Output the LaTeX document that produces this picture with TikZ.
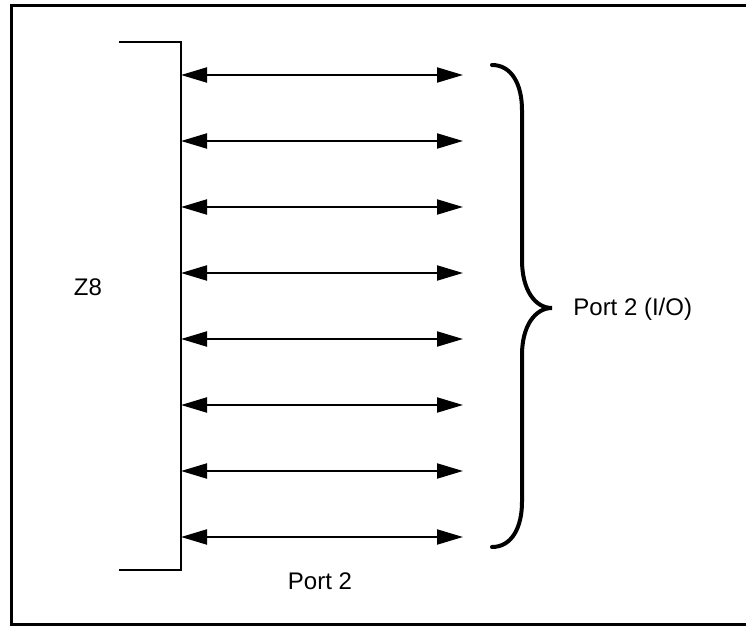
\documentclass[tikz,border=0pt]{standalone}
\usepackage{fontspec}
\setmainfont{Liberation Sans}
\usetikzlibrary{arrows.meta,positioning}

\begin{document}
\begin{tikzpicture}[x=0.5pt,y=-0.5pt,<->,>={Triangle[length=13pt,width=7.5pt]},
 every node/.style={inner sep=0pt,font=\fontsize{12}{14}\selectfont},
 frame/.style={-,line width=1.75pt},
 chip/.style={-,line width=1pt},
 pin/.style={line width=1pt},
 brace/.style={-,line width=2pt,line cap=round}]

  \useasboundingbox (0,0) rectangle (746,626);
  \draw[frame] (750,5.7) -- (11.7,5.7) -- (11.7,624.5) -- (750,624.5);

  % chip edge
  \draw[chip] (119,42) -- (181,42) -- (181,570) -- (119,570);
  \node (z8) at (88,287) {Z8};

  \foreach \i in {0,...,7} {
    \coordinate (pinL\i) at (181,75+66*\i);
    \coordinate (pinR\i) at (463,75+66*\i);
    \draw[pin] (pinL\i) -- (pinR\i);
  }
  \node (port) at (320,581) {Port 2};

  \draw[brace] (492,65) .. controls (512,65) and (522,85) .. (522,110) -- (522,260)
    .. controls (522,290) and (535,308) .. (552,308)
    .. controls (535,308) and (522,326) .. (522,355) -- (522,502)
    .. controls (522,527) and (512,547) .. (492,547);
  \node[anchor=west] (portio) at (573,309) {Port 2 (I/O)};

\end{tikzpicture}
\end{document}
